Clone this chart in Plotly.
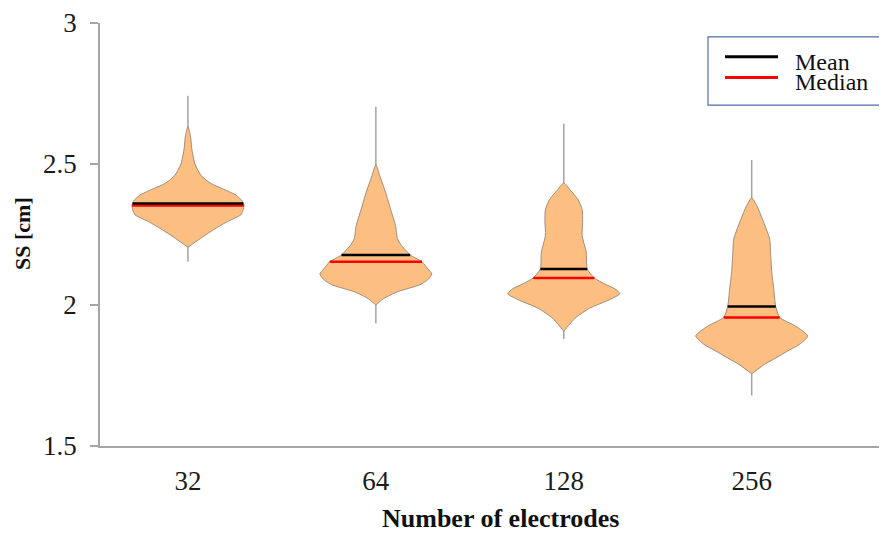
import numpy as np
import plotly.graph_objects as go

# ---------------- data ----------------
categories = ["32", "64", "128", "256"]

# violin outlines: value levels (top to bottom) and relative density (half-width)
levels_32 = [2.633, 2.60, 2.55, 2.50, 2.46, 2.433, 2.41, 2.39, 2.37, 2.356, 2.335, 2.32, 2.305, 2.293, 2.27, 2.247, 2.225, 2.205]
dens_32 = [0, 2.5, 4, 7, 13, 22, 36, 48, 54, 56, 55, 53, 45, 38, 27, 17, 8, 0]

levels_64 = [2.497, 2.458, 2.398, 2.339, 2.282, 2.235, 2.211, 2.188, 2.177, 2.153, 2.128, 2.11, 2.09, 2.072, 2.047, 2.023, 2.0]
dens_64 = [0, 4, 10, 15, 20, 22, 26, 32, 35, 47, 53, 57, 53, 45, 22, 8, 0]

levels_128 = [2.433, 2.409, 2.374, 2.339, 2.293, 2.247, 2.188, 2.128, 2.096, 2.075, 2.058, 2.04, 2.019, 1.988, 1.953, 1.907]
dens_128 = [0, 6, 14, 18, 18.5, 18, 22, 23, 30, 40, 50, 55, 45, 25, 11, 0]

levels_256 = [2.38, 2.353, 2.293, 2.233, 2.177, 2.118, 2.058, 1.995, 1.956, 1.925, 1.89, 1.861, 1.837, 1.812, 1.79, 1.756]
dens_256 = [0, 5, 12, 18, 19, 20, 22, 24, 28, 44, 56, 48, 36, 24, 13, 0]

whisker_min = [2.153, 1.935, 1.879, 1.679]
whisker_max = [2.742, 2.703, 2.644, 2.514]
means = [2.360, 2.177, 2.128, 1.995]
medians = [2.353, 2.153, 2.096, 1.956]

y_ticks = [1.5, 2, 2.5, 3]
y_tick_labels = ["1.5", "2", "2.5", "3"]

# ---------------- styling ----------------
FONT = "Liberation Serif"
FILL = "#FDBE82"
OUTLINE = "#9E8C7A"
WHISKER = "#A3A3A3"
AXIS = "#A6A6A6"
HALF = 0.298  # max half width of a violin in category units

levels_all = [levels_32, levels_64, levels_128, levels_256]
dens_all = [dens_32, dens_64, dens_128, dens_256]
positions = [1, 2, 3, 4]

fig = go.Figure()

for i, cat in enumerate(categories):
    c = positions[i]
    lv = np.array(levels_all[i], dtype=float)
    d = np.array(dens_all[i], dtype=float)
    hw = d / d.max() * HALF

    # whisker
    fig.add_trace(go.Scatter(x=[c, c], y=[whisker_min[i], whisker_max[i]], mode="lines",
                             line=dict(color=WHISKER, width=1.5), showlegend=False, hoverinfo="skip"))
    # violin body
    xs = np.concatenate([c + hw, (c - hw)[::-1]])
    ys = np.concatenate([lv, lv[::-1]])
    fig.add_trace(go.Scatter(x=xs, y=ys, mode="lines", fill="toself", fillcolor=FILL,
                             line=dict(color=OUTLINE, width=1, shape="spline", smoothing=0.6),
                             showlegend=False, hoverinfo="skip"))
    # median & mean lines
    for val, col in ((medians[i], "#FF0000"), (means[i], "#000000")):
        w = np.interp(val, lv[::-1], hw[::-1])
        fig.add_trace(go.Scatter(x=[c - w, c + w], y=[val, val], mode="lines",
                                 line=dict(color=col, width=2.5), showlegend=False, hoverinfo="skip"))

# ---------------- layout ----------------
OFF = 8  # browser default body margin
W, H = 887 - OFF, 534 - OFF
L, R, T, B = 100 - OFF, 887 - OFF, 19 - OFF, 446 - OFF


def px_x(p):
    return (p - OFF - L) / (R - L)


def px_y(p):
    return (B - (p - OFF)) / (B - T)


shapes = [
    dict(type="rect", xref="paper", yref="paper", x0=px_x(708), x1=px_x(882), y0=px_y(102), y1=px_y(33),
         line=dict(color="#4F6FA5", width=1.2), fillcolor="white", layer="above"),
    dict(type="line", xref="paper", yref="paper", x0=px_x(725), x1=px_x(778), y0=px_y(53), y1=px_y(53),
         line=dict(color="#000000", width=3)),
    dict(type="line", xref="paper", yref="paper", x0=px_x(725), x1=px_x(778), y0=px_y(74), y1=px_y(74),
         line=dict(color="#FF0000", width=3)),
]

annotations = [
    dict(text="Mean", xref="paper", yref="paper", x=px_x(793), y=px_y(58), xanchor="left", yanchor="middle",
         showarrow=False, font=dict(family=FONT, size=24, color="#111111")),
    dict(text="Median", xref="paper", yref="paper", x=px_x(793), y=px_y(79), xanchor="left", yanchor="middle",
         showarrow=False, font=dict(family=FONT, size=24, color="#111111")),
    dict(text="<b>Number of electrodes</b>", xref="paper", yref="paper", x=px_x(500), y=px_y(519),
         xanchor="center", yanchor="middle", showarrow=False, font=dict(family=FONT, size=26, color="#111111")),
    dict(text="<b>SS [cm]</b>", xref="paper", yref="paper", x=px_x(22), y=px_y(232), textangle=-90,
         xanchor="center", yanchor="middle", showarrow=False, font=dict(family=FONT, size=22, color="#111111")),
]

fig.update_layout(
    width=W, height=H,
    margin=dict(l=L, r=W - R, t=T, b=H - B),
    paper_bgcolor="white", plot_bgcolor="white",
    showlegend=False,
    shapes=shapes, annotations=annotations,
    xaxis=dict(range=[0.532, 4.72], tickvals=positions, ticktext=categories,
               showline=True, linecolor=AXIS, linewidth=1.5, showgrid=False, zeroline=False,
               ticks="outside", ticklen=10, tickcolor="rgba(0,0,0,0)",
               tickfont=dict(family=FONT, size=27, color="#1a1a1a")),
    yaxis=dict(range=[1.5, 3], tickvals=y_ticks, ticktext=y_tick_labels,
               showline=True, linecolor=AXIS, linewidth=1.5, showgrid=False, zeroline=False,
               ticks="outside", ticklen=8, tickcolor=AXIS, tickwidth=1.5, ticklabelstandoff=8,
               ticklabeloverflow="allow",
               tickfont=dict(family=FONT, size=27, color="#1a1a1a")),
)

fig.write_html("out.html")
